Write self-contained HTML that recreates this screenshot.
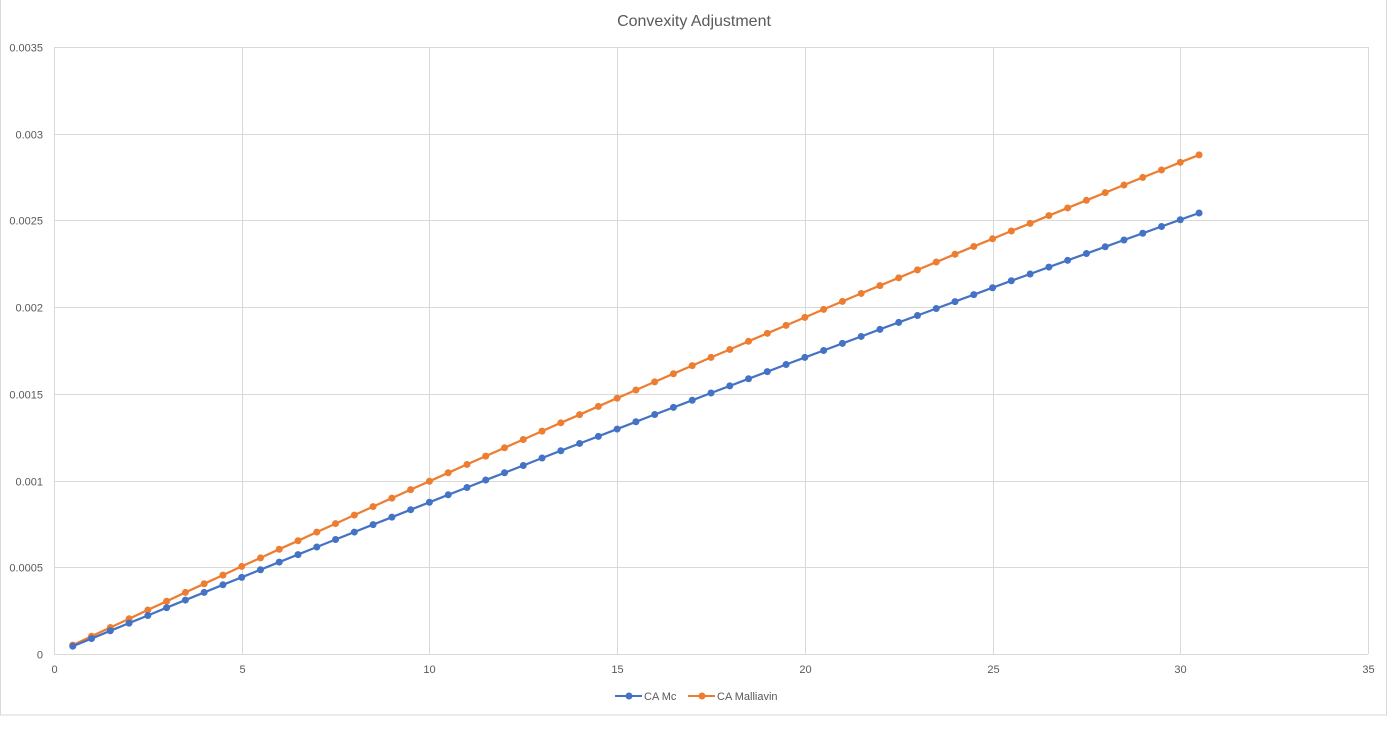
<!DOCTYPE html>
<html><head><meta charset="utf-8">
<style>
html,body{margin:0;padding:0;background:#fff;}
body{width:1388px;height:736px;overflow:hidden;font-family:"Liberation Sans",sans-serif;}
svg text{font-family:"Liberation Sans",sans-serif;fill:#595959;}
</style></head>
<body>
<svg id="chart" width="1388" height="736" viewBox="0 0 1388 736">
<rect x="0.5" y="-1" width="1386" height="716" fill="#fff" stroke="#d9d9d9"/>
<text x="694" y="26" text-anchor="middle" font-size="16">Convexity Adjustment</text>
<g id="grid"></g><g id="axes"></g><g id="series"></g>
<g>
<g>
<line x1="615" y1="696" x2="642" y2="696" stroke="#4472c4" stroke-width="2"/>
<circle cx="629" cy="696" r="3.5" fill="#4472c4"/>
<text x="644" y="700" font-size="11">CA Mc</text></g>
<g>
<line x1="688" y1="696" x2="715" y2="696" stroke="#ed7d31" stroke-width="2"/>
<circle cx="702" cy="696" r="3.5" fill="#ed7d31"/>
<text x="717" y="700" font-size="11">CA Malliavin</text></g>
</g>
</svg>
<script>
const xValues = [0.5,1,1.5,2,2.5,3,3.5,4,4.5,5,5.5,6,6.5,7,7.5,8,8.5,9,9.5,10,10.5,11,11.5,12,12.5,13,13.5,14,14.5,15,15.5,16,16.5,17,17.5,18,18.5,19,19.5,20,20.5,21,21.5,22,22.5,23,23.5,24,24.5,25,25.5,26,26.5,27,27.5,28,28.5,29,29.5,30,30.5];
// values in units of 1e-6
const caMc = [45,89,134,178,222,267,311,355,399,442,486,530,573,617,660,703,746,789,832,875,918,960,1003,1045,1087,1130,1172,1214,1255,1297,1339,1381,1422,1463,1505,1546,1587,1628,1669,1710,1750,1791,1831,1872,1912,1952,1992,2032,2072,2112,2152,2191,2231,2270,2309,2348,2387,2426,2465,2504,2543];
const caMalliavin = [51,102,153,203,254,304,355,405,455,505,554,604,653,703,752,801,850,899,948,996,1045,1093,1141,1189,1237,1285,1333,1380,1428,1475,1522,1569,1616,1663,1710,1756,1803,1849,1895,1941,1987,2033,2079,2124,2169,2215,2260,2305,2350,2394,2439,2483,2528,2572,2616,2660,2704,2748,2791,2835,2878];
const xTicks = [0,5,10,15,20,25,30,35];
const yTicks = [0,0.0005,0.001,0.0015,0.002,0.0025,0.003,0.0035];
const yTickLabels = ["0","0.0005","0.001","0.0015","0.002","0.0025","0.003","0.0035"];

const L=54,R=1368,T=47,B=654;
function xs(v){return L+(v-0)/(35-0)*(R-L);}
function ys(v){return B-(v/0.0035)*(B-T);}
const NS="http://www.w3.org/2000/svg";
function mk(tag,attrs,parent){const e=document.createElementNS(NS,tag);for(const k in attrs)e.setAttribute(k,attrs[k]);parent.appendChild(e);return e;}
const grid=document.getElementById('grid'),axes=document.getElementById('axes'),series=document.getElementById('series');
yTicks.forEach((t,i)=>{
  const y=Math.round(ys(t))+0.5;
  const g=mk('line',{x1:L,x2:R,y1:y,y2:y,stroke:'#d9d9d9','stroke-width':1},grid);
  
  
  const tx=mk('text',{x:43,y:y+4,'text-anchor':'end','font-size':11},axes);
  tx.textContent=yTickLabels[i];
  
  
});
xTicks.forEach(t=>{
  const x=Math.round(xs(t))+0.5;
  const g=mk('line',{x1:x,x2:x,y1:T,y2:B,stroke:'#d9d9d9','stroke-width':1},grid);
  
  
  const tx=mk('text',{x:x,y:673,'text-anchor':'middle','font-size':11},axes);
  tx.textContent=String(t);
  
  
});
function drawSeries(vals,color,name){
  const g=mk('g',{},series);
  
  
  const pts=vals.map((v,i)=>xs(xValues[i]).toFixed(1)+','+ys(v*1e-6).toFixed(1)).join(' ');
  const pl=mk('polyline',{points:pts,fill:'none',stroke:color,'stroke-width':2.25,'stroke-linejoin':'round'},g);
  
  
  vals.forEach((v,i)=>{
    const c=mk('circle',{cx:xs(xValues[i]),cy:ys(v*1e-6),r:3.5,fill:color},g);
    
    
  });
}
drawSeries(caMalliavin,'#ed7d31','ca-malliavin-series');
drawSeries(caMc,'#4472c4','ca-mc-series');
</script>
</body></html>
